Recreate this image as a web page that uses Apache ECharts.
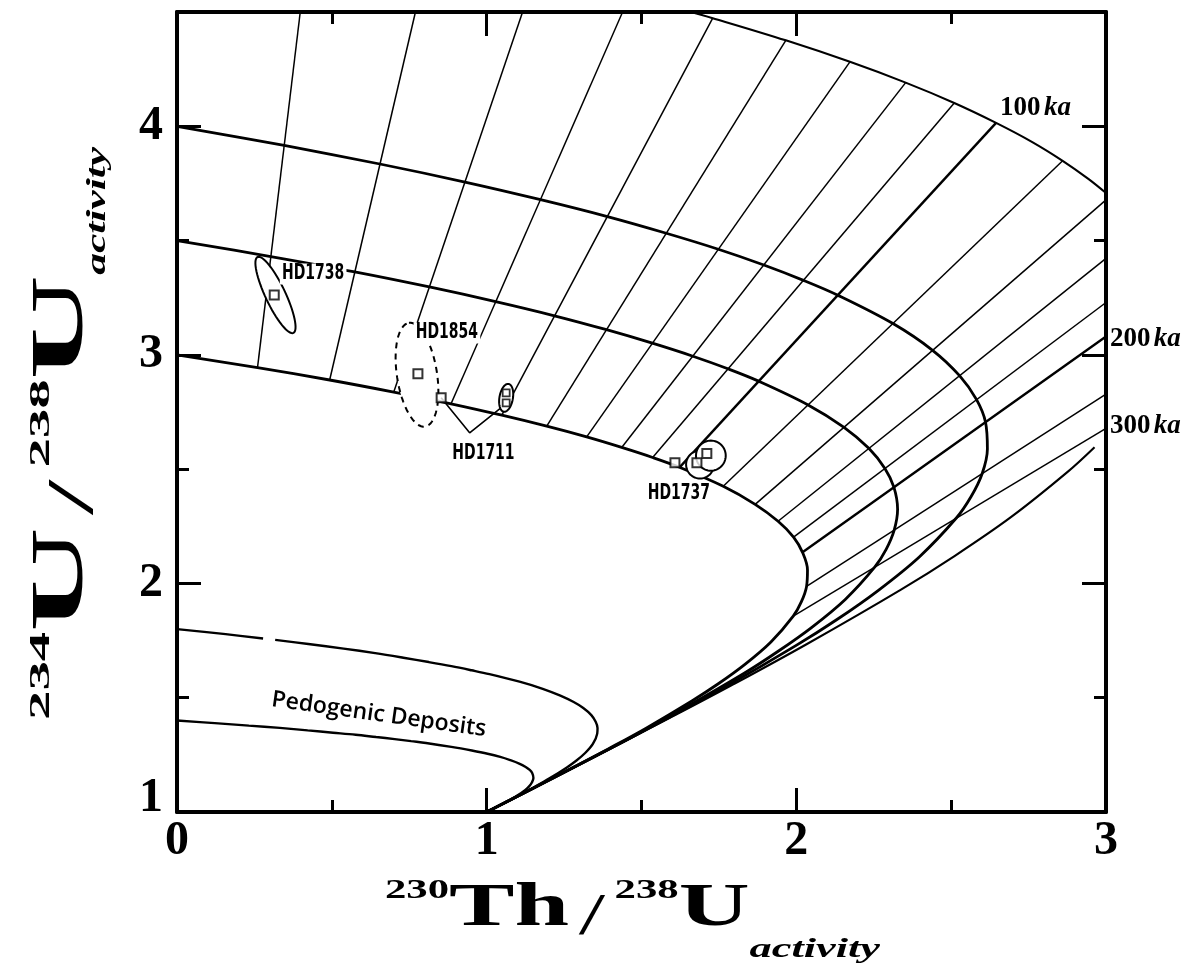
<!DOCTYPE html>
<html><head><meta charset="utf-8">
<script src="https://cdn.jsdelivr.net/npm/echarts@6/dist/echarts.min.js"></script>
<style>html,body{margin:0;padding:0;background:#fff}#c{width:1200px;height:974px}</style>
</head><body><div id="c"></div>
<script>
// ---- evolution curves (initial 234U/238U of 3, 3.5, 4, 5, 1.8, 1.4) ----
const g30 = [[0,3.00],[0.260,2.944],[0.493,2.890],[0.700,2.837],[0.885,2.786],[1.049,2.736],[1.194,2.688],[1.323,2.641],[1.436,2.595],[1.536,2.551],[1.623,2.508],[1.764,2.425],[1.867,2.346],[1.941,2.272],[1.991,2.203],[2.020,2.136],[2.036,2.059],[2.033,1.987],[2.016,1.919],[1.990,1.857],[1.918,1.744],[1.834,1.646],[1.748,1.561],[1.664,1.487],[1.515,1.367],[1.394,1.277],[1.299,1.209],[1.171,1.119],[1.097,1.067],[1.042,1.029],[1.000,1.000]];
const g35 = [[0,3.50],[0.303,3.430],[0.574,3.363],[0.815,3.297],[1.029,3.233],[1.219,3.171],[1.387,3.110],[1.535,3.051],[1.666,2.994],[1.779,2.939],[1.878,2.885],[2.038,2.781],[2.154,2.683],[2.234,2.591],[2.286,2.503],[2.315,2.421],[2.327,2.324],[2.316,2.233],[2.290,2.149],[2.253,2.071],[2.158,1.930],[2.049,1.807],[1.939,1.701],[1.833,1.608],[1.644,1.459],[1.493,1.346],[1.374,1.261],[1.214,1.148],[1.122,1.084],[1.052,1.036],[1.000,1.000]];
const g40 = [[0,4.00],[0.346,3.916],[0.655,3.835],[0.930,3.756],[1.174,3.679],[1.390,3.605],[1.580,3.532],[1.748,3.462],[1.895,3.393],[2.023,3.326],[2.134,3.261],[2.312,3.137],[2.440,3.020],[2.527,2.909],[2.582,2.804],[2.611,2.705],[2.617,2.588],[2.600,2.480],[2.564,2.379],[2.516,2.285],[2.397,2.116],[2.264,1.969],[2.130,1.841],[2.001,1.730],[1.774,1.550],[1.591,1.415],[1.449,1.313],[1.257,1.178],[1.146,1.101],[1.063,1.043],[1.000,1.000]];
const g50upper = [[1.654,4.502],[1.730,4.473],[1.966,4.376],[2.173,4.282],[2.353,4.191],[2.510,4.102],[2.645,4.015],[2.762,3.931],[2.860,3.849],[2.943,3.770],[3.000,3.708]];
const g50lower = [[2.963,2.596],[2.876,2.488],[2.694,2.291],[2.512,2.121],[2.338,1.973],[2.033,1.734],[1.789,1.553],[1.599,1.417],[1.342,1.237],[1.195,1.135],[1.083,1.058],[1.000,1.000]];
const g18a = [[0,1.800],[0.157,1.778],[0.278,1.759]];
const g18b = [[0.317,1.753],[0.424,1.735],[0.538,1.715],[0.640,1.695],[0.731,1.675],[0.813,1.656],[0.886,1.638],[0.951,1.620],[1.009,1.603],[1.106,1.570],[1.181,1.539],[1.238,1.509],[1.281,1.481],[1.312,1.455],[1.338,1.424],[1.352,1.395],[1.358,1.368],[1.357,1.343],[1.343,1.298],[1.318,1.258],[1.289,1.224],[1.259,1.195],[1.203,1.147],[1.157,1.111],[1.119,1.083],[1.068,1.047],[1.039,1.027],[1.017,1.012],[1.000,1.000]];
const g14 = [[0,1.400],[0.122,1.389],[0.232,1.378],[0.332,1.368],[0.422,1.357],[0.504,1.347],[0.577,1.338],[0.643,1.328],[0.703,1.319],[0.756,1.310],[0.804,1.302],[0.886,1.285],[0.952,1.269],[1.003,1.255],[1.044,1.241],[1.076,1.227],[1.105,1.212],[1.126,1.197],[1.139,1.184],[1.147,1.171],[1.151,1.149],[1.146,1.129],[1.137,1.112],[1.125,1.097],[1.100,1.073],[1.077,1.055],[1.059,1.042],[1.034,1.024],[1.020,1.014],[1.008,1.006],[1.000,1.000]];

// ---- isochrons (ka): start on the lowest growth curve, end on the outer curve / frame ----
const isoAge  = [10,20,30,40,50,60,70,80,90,100,120,140,160,180,200,250,300];
const isoFrom = [[0.260,2.944],[0.493,2.890],[0.700,2.837],[0.885,2.786],[1.049,2.736],[1.194,2.688],[1.323,2.641],[1.436,2.595],[1.536,2.551],[1.623,2.508],[1.764,2.425],[1.867,2.346],[1.941,2.272],[1.991,2.203],[2.020,2.136],[2.033,1.987],[1.990,1.857]];
const isoTo   = [[0.398,4.5],[0.770,4.5],[1.116,4.5],[1.439,4.5],[1.730,4.473],[1.966,4.376],[2.173,4.282],[2.353,4.191],[2.510,4.102],[2.645,4.015],[2.860,3.849],[3.0,3.678],[3.0,3.422],[3.0,3.229],[3.0,3.080],[3.0,2.828],[3.0,2.678]];
const boldAges = [100,200];

// ---- samples ----
const squares = [[0.314,3.262],[0.778,2.917],[0.853,2.812],[1.608,2.528],[1.679,2.528],[1.711,2.568]];
const smallSquares = [[1.063,2.834],[1.063,2.790]];
// ellipse: centre x, centre y, semi-axis u (dx, dy), semi-axis v (dx, dy)
const solidEllipses = [[0.318,3.262,-0.058,0.166,0.029,0.019],[1.063,2.812,0.006,0.061,0.022,0.0],[1.689,2.520,0.045,0,0,0.061],[1.724,2.559,0.048,0,0,0.066]];
const dashedEllipses = [[0.775,2.913,-0.026,0.227,0.064,0.013]];
const hd1711Leader = [[0.853,2.812],[0.945,2.659],[1.047,2.769]];
const sampleNames = ['HD1738','HD1854','HD1711','HD1737'];
const sampleLabelPos = [[0.332,3.354],[0.764,3.096],[0.882,2.568],[1.513,2.393]];
const ageLabelText = ['100','200','300'];
const ageLabelPos = [[2.658,4.079],[3.013,3.07],[3.013,2.69]];
const regionText = 'Pedogenic Deposits';
const regionPos = [0.652,1.426];
const xTicks = [0,1,2,3];
const yTicks = [1,2,3,4];

const chart = echarts.init(document.getElementById('c'), null, {renderer:'canvas'});
const BLACK = '#000';
const serif = "'Liberation Serif','DejaVu Serif',serif";
const narrow = "'Liberation Sans Narrow','DejaVu Sans Condensed','Roboto Condensed',sans-serif";

function curve(data, w){
  return {type:'line', data, showSymbol:false, smooth:0.35, clip:true, silent:true, z:2,
    lineStyle:{color:BLACK, width:w}, xAxisIndex:0, yAxisIndex:0};
}
const series = [
  curve(g30,2.8), curve(g35,2.8), curve(g40,2.8), curve(g50upper,2.1), curve(g50lower,2.1),
  curve(g18a,2.4), curve(g18b,2.4), curve(g14,2.4)
];
isoAge.forEach((a,i)=>{
  series.push({type:'line', data:[isoFrom[i], isoTo[i]], showSymbol:false, silent:true, clip:true, z:2,
    lineStyle:{color:BLACK, width: boldAges.includes(a) ? 2.4 : 1.5}});
});
function ellipseSeries(list, dashed){
  return {type:'custom', data:list, z:5, silent:true, clip:false,
    encode:{x:0,y:1},
    renderItem:function(params, api){
      const cx=api.value(0), cy=api.value(1), ux=api.value(2), uy=api.value(3), vx=api.value(4), vy=api.value(5);
      const pts=[];
      for(let k=0;k<=64;k++){
        const t=k/64*Math.PI*2, c=Math.cos(t), s=Math.sin(t);
        pts.push(api.coord([cx+ux*c+vx*s, cy+uy*c+vy*s]));
      }
      return {type:'polygon', shape:{points:pts}, style:{fill:'#fff', stroke:BLACK, lineWidth:2, lineDash: dashed?[6,5]:null}};
    }};
}
series.push(ellipseSeries(solidEllipses,false));
series.push(ellipseSeries(dashedEllipses,true));
series.push({type:'line', data:hd1711Leader, showSymbol:false, silent:true, z:4, lineStyle:{color:BLACK,width:1.6}});
series.push({type:'scatter', data:squares, symbol:'rect', symbolSize:9, z:6, silent:true,
  itemStyle:{color:'#fff', borderColor:BLACK, borderWidth:2}});
series.push({type:'scatter', data:smallSquares, symbol:'rect', symbolSize:7, z:6, silent:true,
  itemStyle:{color:'#fff', borderColor:BLACK, borderWidth:1.8}});

const tickStyle = {color:BLACK, width:3};
function xAx(pos, labels){
  return {type:'value', position:pos, min:0, max:3, interval:1,
    axisLine:{show:true, onZero:false, lineStyle:{color:BLACK, width:4}},
    axisTick:{show:true, inside:true, length:24, lineStyle:tickStyle},
    minorTick:{show:true, splitNumber:2, length:12, lineStyle:tickStyle},
    splitLine:{show:false}, minorSplitLine:{show:false},
    axisLabel:{show:labels, margin:6, color:BLACK, fontFamily:serif, fontWeight:'bold', fontSize:48,
      formatter:v=> xTicks.includes(v) ? String(v) : ''}};
}
function yAx(pos, interval, tickLen, labels, line){
  return {type:'value', position:pos, min:1, max:4.5, interval:interval,
    axisLine:{show:line, onZero:false, lineStyle:{color:BLACK, width:4}},
    axisTick:{show:true, inside:true, length:tickLen, lineStyle:tickStyle},
    splitLine:{show:false},
    axisLabel:{show:labels, margin:14, color:BLACK, fontFamily:serif, fontWeight:'bold', fontSize:48,
      showMaxLabel:false,
      formatter:v=> v===1 ? '{lo|1}' : (yTicks.includes(v) ? String(v) : ''),
      rich:{lo:{fontFamily:serif, fontWeight:'bold', fontSize:48, color:BLACK, padding:[0,0,26,0]}}}};
}

chart.setOption({
  animation:false,
  backgroundColor:'#fff',
  grid:{left:177, right:94, top:12, bottom:162, containLabel:false},
  xAxis:[xAx('bottom',true), xAx('top',false)],
  yAxis:[yAx('left',1,24,true,true), yAx('left',0.5,12,false,false), yAx('right',1,24,false,true), yAx('right',0.5,12,false,false)],
  series
});

// axis titles built from text pieces
const mctx = document.createElement('canvas').getContext('2d');
function titleGroup(pieces, x, y, width, rotation){
  let cx=0; const children=[];
  pieces.forEach(p=>{
    const fs = p.style||'normal', fw = p.weight||'bold', sx = p.sx||1;
    mctx.font = `${fs} ${fw} ${p.size}px ${serif}`;
    const w = mctx.measureText(p.text).width;
    cx += (p.pre||0);
    children.push({type:'text', x:cx, y:p.dy, scaleX:sx, style:{text:p.text, fontSize:p.size, fontFamily:serif,
      fontWeight:fw, fontStyle:fs, fill:BLACK, textAlign:'left', textVerticalAlign:'bottom'}});
    cx += w*sx + (p.kern||0);
  });
  return {type:'group', x, y, rotation:rotation||0, scaleX: width/cx, scaleY:1, children};
}
const xTitle = [
  {text:'230', size:27, dy:-35},
  {text:'Th', size:62, dy:0},
  {text:'/', size:60, weight:'normal', dy:8, pre:6, kern:6},
  {text:'238', size:27, dy:-35},
  {text:'U', size:62, dy:0},
  {text:'activity', size:28, style:'italic', dy:24}
];
const yTitle = [
  {text:'234', size:30, dy:-44},
  {text:'U', size:74, dy:0},
  {text:'/', size:66, weight:'normal', dy:8, pre:6, kern:6},
  {text:'238', size:30, dy:-44},
  {text:'U', size:74, dy:0},
  {text:'activity', size:27, style:'italic', dy:12, sx:0.82}
];
const graphics = [
  titleGroup(xTitle, 385, 940, 495, 0),
  titleGroup(yTitle, 100, 720, 573, Math.PI/2)
];
// text annotations, placed at their data positions
sampleNames.forEach((n,i)=>{
  const p = chart.convertToPixel({gridIndex:0}, sampleLabelPos[i]);
  graphics.push({type:'text', x:p[0], y:p[1], scaleX:0.74, z:100,
    style:{text:n, fontFamily:narrow, fontWeight:'bold', fontSize:21, fill:BLACK,
      textAlign:'left', textVerticalAlign:'middle', backgroundColor:'#fff', padding:[0,3,0,3]}});
});
ageLabelText.forEach((n,i)=>{
  const p = chart.convertToPixel({gridIndex:0}, ageLabelPos[i]);
  graphics.push({type:'text', x:p[0], y:p[1], z:100,
    style:{text:'{n|'+n+'} {k|ka}', fill:BLACK, textAlign:'left', textVerticalAlign:'middle',
      rich:{n:{fontFamily:serif, fontWeight:'bold', fontSize:27, fill:BLACK, color:BLACK},
            k:{fontFamily:serif, fontWeight:'bold', fontStyle:'italic', fontSize:27, fill:BLACK, color:BLACK}}}});
});
{
  const p = chart.convertToPixel({gridIndex:0}, regionPos);
  graphics.push({type:'text', x:p[0], y:p[1], rotation:-8*Math.PI/180, z:100,
    style:{text:regionText, fontFamily:"'Open Sans','Lato',sans-serif", fontWeight:600, fontSize:23,
      fill:BLACK, textAlign:'center', textVerticalAlign:'middle'}});
}
chart.setOption({graphic:graphics});
</script></body></html>
